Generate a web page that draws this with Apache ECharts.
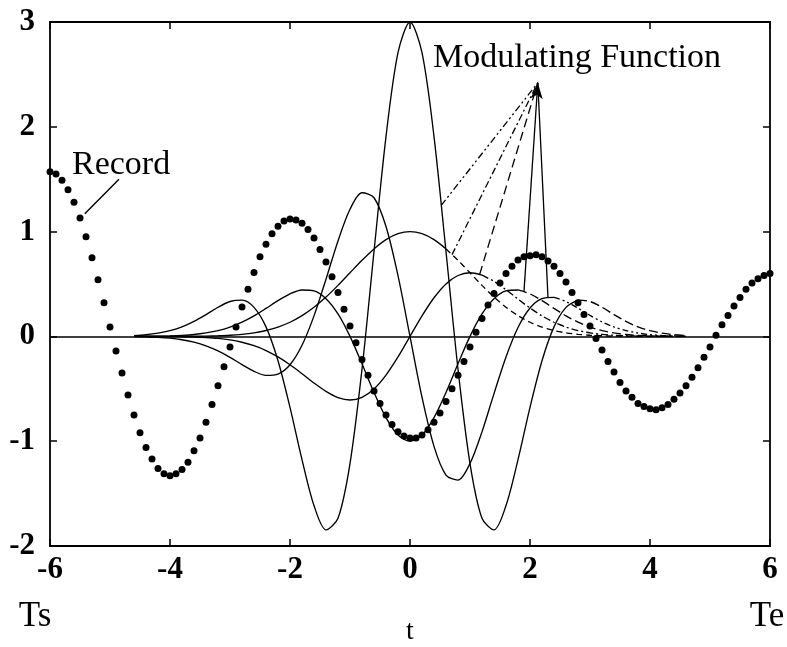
<!DOCTYPE html>
<html>
<head>
<meta charset="utf-8">
<script src="https://cdn.jsdelivr.net/npm/echarts@6/dist/echarts.min.js"></script>
<style>
html,body{margin:0;padding:0;background:#fff;}
#chart{width:787px;height:647px;}
</style>
</head>
<body>
<div id="chart"></div>
<script>
// ---- data ----
const xTicks = [-6, -4, -2, 0, 2, 4, 6];
const yTicks = [-2, -1, 0, 1, 2, 3];

// Record: dots sampled every 0.1 from t = -6 to t = 6
const recordStart = -6;
const recordStep = 0.1;
const recordY = [
  1.57,1.55,1.49,1.40,1.28,1.13,0.95,0.75,0.54,0.32,
  0.09,-0.14,-0.35,-0.56,-0.75,-0.92,-1.06,-1.17,-1.26,-1.31,
  -1.33,-1.31,-1.27,-1.20,-1.09,-0.97,-0.82,-0.65,-0.47,-0.29,
  -0.10,0.09,0.28,0.45,0.61,0.76,0.88,0.98,1.05,1.10,
  1.12,1.11,1.08,1.02,0.94,0.83,0.71,0.57,0.42,0.26,
  0.10,-0.06,-0.22,-0.37,-0.52,-0.64,-0.75,-0.84,-0.91,-0.95,
  -0.97,-0.97,-0.94,-0.89,-0.82,-0.73,-0.62,-0.50,-0.37,-0.24,
  -0.10,0.04,0.17,0.30,0.41,0.51,0.60,0.67,0.73,0.76,
  0.77,0.78,0.76,0.72,0.67,0.60,0.52,0.42,0.32,0.21,
  0.10,-0.02,-0.13,-0.24,-0.34,-0.44,-0.52,-0.58,-0.64,-0.67,
  -0.69,-0.70,-0.68,-0.65,-0.60,-0.54,-0.47,-0.39,-0.30,-0.20,
  -0.10,0.01,0.11,0.20,0.29,0.37,0.45,0.51,0.55,0.58,
  0.60
];

// Modulating functions, sampled at tGrid
const tGrid = [-4.6,-4.4,-4.2,-4.0,-3.8,-3.6,-3.4,-3.2,-3.0,-2.8,-2.6,-2.4,-2.2,-2.0,-1.8,-1.6,-1.4,-1.2,-1.0,-0.8,-0.6,-0.4,-0.2,0,
  0.2,0.4,0.6,0.8,1.0,1.2,1.4,1.6,1.8,2.0,2.2,2.4,2.6,2.8,3.0,3.2,3.4,3.6,3.8,4.0,4.2,4.4,4.6];

const mod0 = [0,0,0,0,0.001,0.002,0.003,0.006,0.011,0.020,0.034,0.056,0.089,0.135,0.198,0.278,0.375,0.487,0.607,0.726,0.835,0.923,0.980,1.000,
  0.980,0.923,0.835,0.726,0.607,0.487,0.375,0.278,0.198,0.135,0.089,0.056,0.034,0.020,0.011,0.006,0.003,0.002,0.001,0,0,0,0];
const mod1 = [0,0,-0.001,-0.001,-0.003,-0.006,-0.011,-0.019,-0.033,-0.056,-0.089,-0.135,-0.196,-0.271,-0.356,-0.445,-0.525,-0.584,-0.607,-0.581,-0.501,-0.369,-0.196,0,
  0.196,0.369,0.501,0.581,0.607,0.584,0.525,0.445,0.356,0.271,0.196,0.135,0.089,0.056,0.033,0.019,0.011,0.006,0.003,0.001,0.001,0,0];
const mod2 = [0,0.001,0.002,0.005,0.010,0.018,0.033,0.055,0.089,0.136,0.196,0.267,0.341,0.406,0.443,0.434,0.360,0.214,0,-0.261,-0.535,-0.775,-0.941,-1.000,
  -0.941,-0.775,-0.535,-0.261,0,0.214,0.360,0.434,0.443,0.406,0.341,0.267,0.196,0.136,0.089,0.055,0.033,0.018,0.010,0.005,0.002,0.001,0];
const mod3 = [-0.002,-0.005,-0.009,-0.017,-0.032,-0.055,-0.090,-0.139,-0.200,-0.269,-0.333,-0.372,-0.360,-0.271,-0.085,0.196,0.546,0.911,1.213,1.371,1.323,1.049,0.580,0,
  -0.580,-1.049,-1.323,-1.371,-1.213,-0.911,-0.546,-0.196,0.085,0.271,0.360,0.372,0.333,0.269,0.200,0.139,0.090,0.055,0.032,0.017,0.009,0.005,0.002];
const mod4 = [0.008,0.016,0.031,0.055,0.091,0.143,0.208,0.278,0.333,0.346,0.277,0.091,-0.232,-0.677,-1.176,-1.614,-1.846,-1.736,-1.213,-0.313,0.810,1.907,2.707,3.000,
  2.707,1.907,0.810,-0.313,-1.213,-1.736,-1.846,-1.614,-1.176,-0.677,-0.232,0.091,0.277,0.346,0.333,0.278,0.208,0.143,0.091,0.055,0.031,0.016,0.008];

// where each curve's right tail turns dashed
const tailStart = [0.6, 1.2, 1.8, 2.4, 2.8];

// annotation leader lines (data coordinates)
const modTip = [2.13, 2.42];
const modTargets = [[0.52, 1.25], [0.70, 0.78], [1.16, 0.59], [1.90, 0.43], [2.30, 0.37]];
const recordLeader = [[-5.42, 1.17], [-4.85, 1.50]];

// ---- build chart ----
const INK = '#000';
const SERIF = '"Liberation Serif", "DejaVu Serif", serif';
const mods = [mod0, mod1, mod2, mod3, mod4];
const tailDash = [[6, 4], [7, 3, 2, 3], [9, 4], [6, 3, 2, 3, 2, 3], [9, 4]];
const leaderDash = [[7, 3, 2, 3, 2, 3], [7, 3, 2, 3], [9, 5], 'solid', 'solid'];

const recordData = recordY.map((y, i) => [+(recordStart + i * recordStep).toFixed(2), y]);

const series = [];
// zero reference line
series.push({
  type: 'line', data: [], silent: true,
  markLine: {
    silent: true, symbol: ['none', 'none'], animation: false,
    label: { show: false },
    lineStyle: { color: INK, width: 1.7, type: 'solid' },
    data: [{ yAxis: 0 }]
  }
});

mods.forEach((ys, m) => {
  const pts = tGrid.map((t, i) => [t, ys[i]]);
  const solid = pts.filter(p => p[0] <= tailStart[m] + 1e-9);
  const dashed = pts.filter(p => p[0] >= tailStart[m] - 1e-9);
  series.push({
    type: 'line', data: solid, smooth: 0.3, showSymbol: false, silent: true,
    lineStyle: { color: INK, width: 1.35, type: 'solid' }
  });
  series.push({
    type: 'line', data: dashed, smooth: 0.3, showSymbol: false, silent: true,
    lineStyle: { color: INK, width: 1.35, type: tailDash[m] }
  });
});

// leader lines
const leaderData = modTargets.map((tg, i) => [
  { coord: tg, symbol: 'none', lineStyle: { type: leaderDash[i], color: INK, width: 1.3 } },
  { coord: modTip, symbol: i === 3 ? 'arrow' : 'none', symbolSize: [9, 16] }
]);
leaderData.push([
  { coord: recordLeader[0], symbol: 'none', lineStyle: { type: 'solid', color: INK, width: 1.4 } },
  { coord: recordLeader[1], symbol: 'none' }
]);
series.push({
  type: 'line', data: [], silent: true,
  markLine: {
    silent: true, animation: false, symbol: ['none', 'none'],
    label: { show: false },
    itemStyle: { color: INK },
    lineStyle: { color: INK, width: 1.3 },
    data: leaderData
  }
});

series.push({
  type: 'scatter', data: recordData, symbol: 'circle', symbolSize: 7, silent: true,
  itemStyle: { color: INK, opacity: 1 }
});

const axisCommon = {
  type: 'value',
  axisLine: { show: true, onZero: false, lineStyle: { color: INK, width: 1.8 } },
  axisTick: { show: true, inside: true, length: 7, lineStyle: { color: INK, width: 1.5 } },
  splitLine: { show: false }
};

const option = {
  animation: false,
  backgroundColor: '#fff',
  grid: { left: 50, right: 17, top: 22, bottom: 101, containLabel: false },
  xAxis: [
    Object.assign({}, axisCommon, {
      position: 'bottom', min: xTicks[0], max: xTicks[xTicks.length - 1], interval: 2,
      axisLabel: { color: INK, fontFamily: SERIF, fontSize: 31, fontWeight: 'bold', margin: 8 }
    }),
    Object.assign({}, axisCommon, {
      position: 'top', min: xTicks[0], max: xTicks[xTicks.length - 1], interval: 2,
      axisLabel: { show: false }
    })
  ],
  yAxis: [
    Object.assign({}, axisCommon, {
      position: 'left', min: yTicks[0], max: yTicks[yTicks.length - 1], interval: 1,
      axisLabel: { color: INK, fontFamily: SERIF, fontSize: 31, fontWeight: 'bold', margin: 15 }
    }),
    Object.assign({}, axisCommon, {
      position: 'right', min: yTicks[0], max: yTicks[yTicks.length - 1], interval: 1,
      axisLabel: { show: false }
    })
  ],
  graphic: [
    { type: 'text', x: 433, y: 58, silent: true,
      style: { text: 'Modulating Function', font: '34px ' + SERIF, fill: INK, textVerticalAlign: 'middle' } },
    { type: 'text', x: 72, y: 165, silent: true,
      style: { text: 'Record', font: '34px ' + SERIF, fill: INK, textVerticalAlign: 'middle' } },
    { type: 'text', x: 35, y: 617, silent: true,
      style: { text: 'Ts', font: '35px ' + SERIF, fill: INK, textAlign: 'center', textVerticalAlign: 'middle' } },
    { type: 'text', x: 767, y: 617, silent: true,
      style: { text: 'Te', font: '35px ' + SERIF, fill: INK, textAlign: 'center', textVerticalAlign: 'middle' } },
    { type: 'text', x: 410, y: 632, silent: true,
      style: { text: 't', font: '28px ' + SERIF, fill: INK, textAlign: 'center', textVerticalAlign: 'middle' } }
  ],
  series: series
};

const chart = echarts.init(document.getElementById('chart'), null, { renderer: 'canvas' });
chart.setOption(option);
</script>
</body>
</html>
